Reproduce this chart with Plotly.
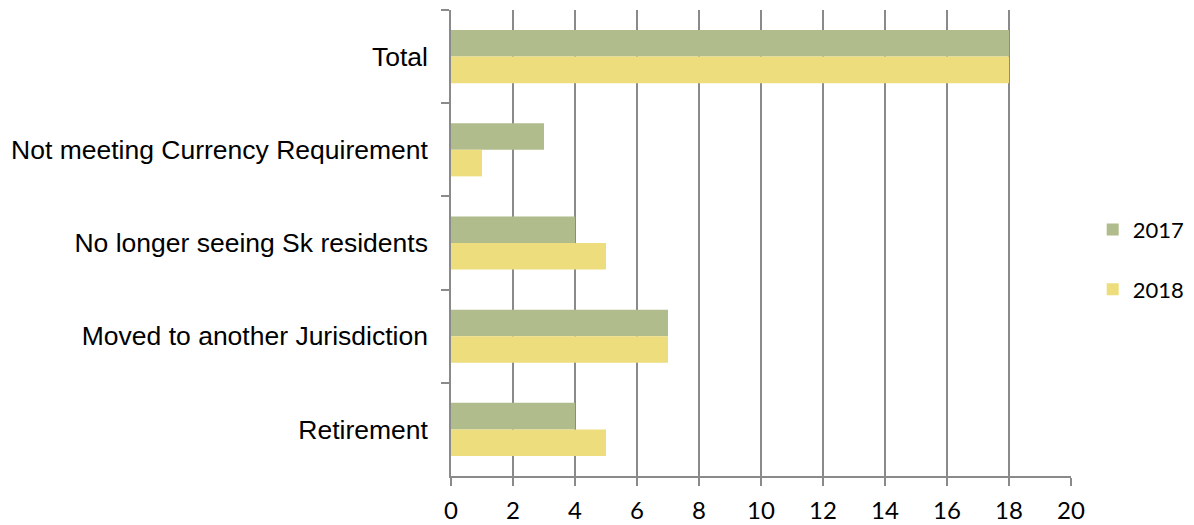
import plotly.graph_objects as go

categories = ["Total", "Not meeting Currency Requirement", "No longer seeing Sk residents",
              "Moved to another Jurisdiction", "Retirement"]
values_2017 = [18, 3, 4, 7, 4]
values_2018 = [18, 1, 5, 7, 5]
x_ticks = [0, 2, 4, 6, 8, 10, 12, 14, 16, 18, 20]

fig = go.Figure()
fig.add_trace(go.Bar(y=categories, x=values_2017, name="2017", orientation="h",
                     marker=dict(color="#b0bc8c", line=dict(width=0)), legendgroup="a"))
fig.add_trace(go.Bar(y=categories, x=values_2018, name="2018", orientation="h",
                     marker=dict(color="#eedd7c", line=dict(width=0)), legendgroup="b"))

grid = "#8a8a8a"
fig.update_layout(
    width=1194, height=525,
    margin=dict(l=451, r=123, t=10, b=49, autoexpand=False),
    paper_bgcolor="white", plot_bgcolor="white",
    barmode="group", bargap=0.43, bargroupgap=0,
    font=dict(family="Liberation Sans, Arial", size=26.5, color="black"),
    showlegend=True,
    legend=dict(x=1.035, y=0.464, yanchor="middle", xanchor="left",
                font=dict(family="Lato, Open Sans", size=22),
                traceorder="grouped", tracegroupgap=28,
                bgcolor="rgba(0,0,0,0)"),
    xaxis=dict(range=[0, 20], tickvals=x_ticks, showgrid=True, gridcolor=grid, gridwidth=1.5,
               showline=True, linecolor=grid, linewidth=1.5, ticks="outside", ticklen=8,
               tickcolor=grid, tickwidth=1.5, zeroline=False, ticklabelstandoff=4,
               tickfont=dict(family="Lato, Open Sans", size=24), fixedrange=True),
    yaxis=dict(autorange="reversed", showline=True, linecolor=grid, linewidth=1.5,
               ticks="outside", ticklen=8, tickcolor=grid, tickwidth=1.5, tickson="boundaries",
               showgrid=False, ticklabelstandoff=16, fixedrange=True),
)
fig.write_html("out.html")
